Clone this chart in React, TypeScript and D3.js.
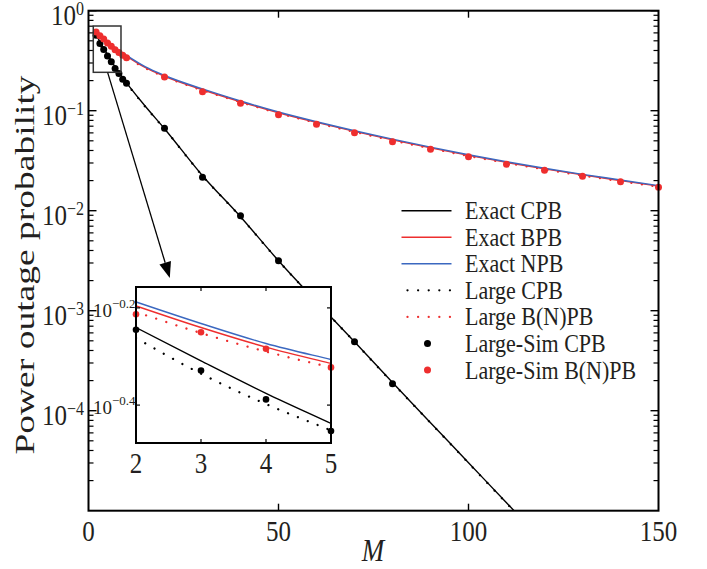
import React from "react";
import * as d3 from "d3";

// ---------- data ----------
const M_CURVE = [2, 3, 4, 5, 6, 7, 8, 9, 10, 15, 20, 30, 40, 50, 60, 70, 80, 90, 100, 110, 120, 130, 140, 150];
const EXACT_CPB = [0.575, 0.491, 0.421, 0.365, 0.316, 0.274, 0.241, 0.213, 0.19, 0.11, 0.0661, 0.0224, 0.00871, 0.00316, 0.00123, 4.9e-4, 1.91e-4, 7.59e-5, 3.02e-5, 1.2e-5, 4.79e-6, 1.91e-6, 7.59e-7, 3.02e-7];
const EXACT_BPB = [0.637, 0.575, 0.524, 0.485, 0.451, 0.421, 0.394, 0.372, 0.351, 0.269, 0.221, 0.162, 0.123, 0.0955, 0.0764, 0.0621, 0.0511, 0.0425, 0.0357, 0.0304, 0.0262, 0.0228, 0.02, 0.0176];
const EXACT_NPB = [0.649, 0.586, 0.533, 0.494, 0.459, 0.429, 0.402, 0.378, 0.357, 0.274, 0.225, 0.165, 0.125, 0.097, 0.0776, 0.0631, 0.0519, 0.0432, 0.0363, 0.0309, 0.0266, 0.0231, 0.0203, 0.0178];
const LARGE_CPB = [0.547, 0.462, 0.4, 0.353, 0.309, 0.269, 0.238, 0.211, 0.188, 0.109, 0.0658, 0.0223, 0.00868, 0.00315, 0.00123, 4.88e-4, 1.9e-4, 7.56e-5, 3.0e-5, 1.19e-5, 4.77e-6, 1.9e-6, 7.55e-7, 3.0e-7];
const LARGE_BNPB = [0.619, 0.56, 0.513, 0.476, 0.443, 0.414, 0.389, 0.366, 0.345, 0.266, 0.219, 0.16, 0.122, 0.0944, 0.0755, 0.0614, 0.0505, 0.042, 0.0353, 0.0301, 0.0259, 0.0225, 0.0197, 0.0174];

const M_SIM_CPB = [2, 3, 4, 5, 6, 7, 8, 9, 10, 20, 30, 40, 50, 60, 70, 80];
const SIM_CPB = [0.569, 0.469, 0.409, 0.352, 0.309, 0.265, 0.236, 0.206, 0.188, 0.0667, 0.0216, 0.00891, 0.00316, 0.00126, 4.9e-4, 1.86e-4];
const M_SIM_BNPB = [2, 3, 4, 5, 6, 7, 8, 9, 10, 20, 30, 40, 50, 60, 70, 80, 90, 100, 110, 120, 130, 140, 150];
const SIM_BNPB = [0.612, 0.562, 0.52, 0.476, 0.442, 0.407, 0.382, 0.359, 0.339, 0.217, 0.155, 0.119, 0.0912, 0.0733, 0.0603, 0.049, 0.0412, 0.0347, 0.0292, 0.0254, 0.0221, 0.0195, 0.0172];

const X_TICKS = [0, 50, 100, 150];
const Y_DECADES = [0, -1, -2, -3, -4];
const INSET_X_TICKS = [2, 3, 4, 5];
const INSET_Y_TICKS = [-0.2, -0.4];

const LEGEND_LABELS = ["Exact CPB", "Exact BPB", "Exact NPB", "Large CPB", "Large B(N)PB", "Large-Sim CPB", "Large-Sim B(N)PB"];

// zoom window and arrow annotation (data coords)
const ZOOM_BOX = { m0: 1.26, m1: 8.55, p0: 0.703, p1: 0.242 };
const ARROW = { m0: 5.05, p0: 0.24, m1: 21.4, p1: 0.00212 };

// ---------- style ----------
const W = 707, H = 569;
const FONT = "'Liberation Serif', 'Times New Roman', serif";
const TXT = "#231f20";
const BLACK = "#000000";
const RED = "#ee2e2e";
const BLUE = "#3b68c0";
const SY = 1.16;
const DOT = "0.01,10.6";

const x = d3.scaleLinear().domain([0, 150]).range([88.5, 658.5]);
const y = d3.scaleLog().domain([1e-5, 1]).range([510.7, 10.7]);
const xi = d3.scaleLinear().domain([2, 5]).range([136, 331]);
const yi = d3.scaleLog().domain([Math.pow(10, -0.478), Math.pow(10, -0.157)]).range([443, 287]);

function ST(props: any) {
  const { x, y, size, anchor = "start", italic = false, children } = props;
  return (
    <text
      transform={`translate(${x},${y}) scale(1,${SY})`}
      fontSize={size}
      textAnchor={anchor}
      fontFamily={FONT}
      fontStyle={italic ? "italic" : "normal"}
      fill={TXT}
    >
      {children}
    </text>
  );
}

export default function App() {
  const mkLine = (xs: any, ys: any, ms: number[], vs: number[]) =>
    d3
      .line<number>()
      .x((_, i) => xs(ms[i]))
      .y((d) => ys(d))
      .curve(d3.curveMonotoneX)(vs) as string;

  const series = [
    { vals: EXACT_CPB, color: BLACK, dash: undefined, w: 1.4 },
    { vals: LARGE_CPB, color: BLACK, dash: DOT, w: 2.3 },
    { vals: LARGE_BNPB, color: RED, dash: DOT, w: 2.3 },
    { vals: EXACT_BPB, color: RED, dash: undefined, w: 1.4 },
    { vals: EXACT_NPB, color: BLUE, dash: undefined, w: 1.4 },
  ];

  const minorTicks: number[] = [];
  for (let k = -5; k < 0; k++) for (let m = 2; m <= 9; m++) minorTicks.push(m * Math.pow(10, k));

  const PL = x(0), PR = x(150), PT = y(1), PB = y(1e-5);
  const IL = xi(2), IR = xi(5), IT = yi.range()[1], IB = yi.range()[0];

  const ax0 = x(ARROW.m0), ay0 = y(ARROW.p0), ax1 = x(ARROW.m1), ay1 = y(ARROW.p1);
  const ang = Math.atan2(ay1 - ay0, ax1 - ax0);
  const hl = 16, hw = 6;
  const bx = ax1 - hl * Math.cos(ang), by = ay1 - hl * Math.sin(ang);
  const head = `M${ax1},${ay1} L${bx + hw * Math.sin(ang)},${by - hw * Math.cos(ang)} L${bx - hw * Math.sin(ang)},${by + hw * Math.cos(ang)} Z`;

  const legX0 = 401.5, legX1 = 451.5, legY0 = 210.7, legStep = 26.55, legTX = 465;

  return (
    <svg width={W} height={H} style={{ position: "absolute", left: 0, top: 0, background: "#fff" }}>
      <defs>
        <clipPath id="mainClip">
          <rect x={PL} y={PT} width={PR - PL} height={PB - PT} />
        </clipPath>
        <clipPath id="insetClip">
          <rect x={IL} y={IT} width={IR - IL} height={IB - IT} />
        </clipPath>
      </defs>
      <rect width={W} height={H} fill="#fff" />

      {/* main curves */}
      <g clipPath="url(#mainClip)">
        {series.map((s, i) => (
          <path key={i} d={mkLine(x, y, M_CURVE, s.vals)} fill="none" stroke={s.color} strokeWidth={s.w} strokeDasharray={s.dash} strokeLinecap={s.dash ? "round" : "butt"} />
        ))}
      </g>
      {M_SIM_CPB.map((m, i) => (
        <circle key={"c" + i} cx={x(m)} cy={y(SIM_CPB[i])} r={3.5} fill={BLACK} />
      ))}
      {M_SIM_BNPB.map((m, i) => (
        <circle key={"b" + i} cx={x(m)} cy={y(SIM_BNPB[i])} r={3.5} fill={RED} />
      ))}

      {/* main frame and ticks */}
      <rect x={PL} y={PT} width={PR - PL} height={PB - PT} fill="none" stroke={BLACK} strokeWidth={2} />
      {minorTicks.map((v, i) => (
        <g key={"mt" + i}>
          <line x1={PL} x2={PL + 5} y1={y(v)} y2={y(v)} stroke={BLACK} strokeWidth={1.2} />
          <line x1={PR} x2={PR - 5} y1={y(v)} y2={y(v)} stroke={BLACK} strokeWidth={1.2} />
        </g>
      ))}
      {Y_DECADES.map((k) => (
        <g key={"yd" + k}>
          <line x1={PL} x2={PL + 8} y1={y(Math.pow(10, k))} y2={y(Math.pow(10, k))} stroke={BLACK} strokeWidth={1.4} />
          <line x1={PR} x2={PR - 8} y1={y(Math.pow(10, k))} y2={y(Math.pow(10, k))} stroke={BLACK} strokeWidth={1.4} />
          <text transform={`translate(84,${y(Math.pow(10, k)) + 14}) scale(1,${SY})`} fontFamily={FONT} fill={TXT} textAnchor="end" fontSize={25}>
            <tspan>10</tspan>
            <tspan fontSize={16} dy={-8.5}>{k === 0 ? "0" : "\u2212" + Math.abs(k)}</tspan>
          </text>
        </g>
      ))}
      {X_TICKS.map((t) => (
        <g key={"xt" + t}>
          {t > 0 && t < 150 && (
            <>
              <line x1={x(t)} x2={x(t)} y1={PB} y2={PB - 7} stroke={BLACK} strokeWidth={1.4} />
              <line x1={x(t)} x2={x(t)} y1={PT} y2={PT + 7} stroke={BLACK} strokeWidth={1.4} />
            </>
          )}
          <ST x={x(t)} y={541} size={25} anchor="middle">{String(t)}</ST>
        </g>
      ))}
      <ST x={373} y={561} size={27} anchor="middle" italic>M</ST>
      <text transform={`translate(34,265) rotate(-90) scale(1.34,1)`} fontFamily={FONT} fill={TXT} fontSize={28} textAnchor="middle">
        Power outage probability
      </text>

      {/* zoom box and arrow */}
      <rect x={x(ZOOM_BOX.m0)} y={y(ZOOM_BOX.p0)} width={x(ZOOM_BOX.m1) - x(ZOOM_BOX.m0)} height={y(ZOOM_BOX.p1) - y(ZOOM_BOX.p0)} fill="none" stroke="#333" strokeWidth={1.5} />
      <line x1={ax0} y1={ay0} x2={bx} y2={by} stroke={BLACK} strokeWidth={1.3} />
      <path d={head} fill={BLACK} />

      {/* inset */}
      <rect x={IL} y={IT} width={IR - IL} height={IB - IT} fill="#fff" />
      <g clipPath="url(#insetClip)">
        {series.map((s, i) => (
          <path key={"i" + i} d={mkLine(xi, yi, M_CURVE, s.vals)} fill="none" stroke={s.color} strokeWidth={s.w} strokeDasharray={s.dash} strokeLinecap={s.dash ? "round" : "butt"} />
        ))}
      </g>
      {M_SIM_CPB.map((m, i) => m >= 2 && m <= 5 && (
        <circle key={"ic" + i} cx={xi(m)} cy={yi(SIM_CPB[i])} r={3.3} fill={BLACK} />
      ))}
      {M_SIM_BNPB.map((m, i) => m >= 2 && m <= 5 && (
        <circle key={"ib" + i} cx={xi(m)} cy={yi(SIM_BNPB[i])} r={3.3} fill={RED} />
      ))}
      <rect x={IL} y={IT} width={IR - IL} height={IB - IT} fill="none" stroke={BLACK} strokeWidth={2} />
      {INSET_X_TICKS.map((t) => (
        <g key={"ixt" + t}>
          {t > 2 && t < 5 && (
            <>
              <line x1={xi(t)} x2={xi(t)} y1={IB} y2={IB - 4} stroke={BLACK} strokeWidth={1.2} />
              <line x1={xi(t)} x2={xi(t)} y1={IT} y2={IT + 4} stroke={BLACK} strokeWidth={1.2} />
            </>
          )}
          <ST x={xi(t)} y={473} size={25} anchor="middle">{String(t)}</ST>
        </g>
      ))}
      {INSET_Y_TICKS.map((e) => (
        <g key={"iyt" + e}>
          <line x1={IL} x2={IL + 4} y1={yi(Math.pow(10, e))} y2={yi(Math.pow(10, e))} stroke={BLACK} strokeWidth={1.2} />
          <line x1={IR} x2={IR - 4} y1={yi(Math.pow(10, e))} y2={yi(Math.pow(10, e))} stroke={BLACK} strokeWidth={1.2} />
          <text x={93} y={yi(Math.pow(10, e)) + 9} fontFamily={FONT} fill={TXT} fontSize={19}>
            <tspan>10</tspan>
            <tspan fontSize={13} dy={-9}>{"\u2212" + Math.abs(e).toFixed(1)}</tspan>
          </text>
        </g>
      ))}

      {/* legend */}
      {LEGEND_LABELS.map((lab, i) => {
        const ly = legY0 + i * legStep;
        let mark: any = null;
        if (i === 0) mark = <line x1={legX0} x2={legX1} y1={ly} y2={ly} stroke={BLACK} strokeWidth={1.4} />;
        if (i === 1) mark = <line x1={legX0} x2={legX1} y1={ly} y2={ly} stroke={RED} strokeWidth={1.6} />;
        if (i === 2) mark = <line x1={legX0} x2={legX1} y1={ly} y2={ly} stroke={BLUE} strokeWidth={1.6} />;
        if (i === 3) mark = <line x1={legX0 + 6} x2={legX1} y1={ly} y2={ly} stroke={BLACK} strokeWidth={2.3} strokeDasharray={DOT} strokeLinecap="round" />;
        if (i === 4) mark = <line x1={legX0 + 6} x2={legX1} y1={ly} y2={ly} stroke={RED} strokeWidth={2.3} strokeDasharray={DOT} strokeLinecap="round" />;
        if (i === 5) mark = <circle cx={(legX0 + legX1) / 2 + 1} cy={ly} r={3.5} fill={BLACK} />;
        if (i === 6) mark = <circle cx={(legX0 + legX1) / 2 + 1} cy={ly} r={3.5} fill={RED} />;
        return (
          <g key={"lg" + i}>
            {mark}
            <ST x={legTX} y={ly + 8.5} size={22}>{lab}</ST>
          </g>
        );
      })}
    </svg>
  );
}
